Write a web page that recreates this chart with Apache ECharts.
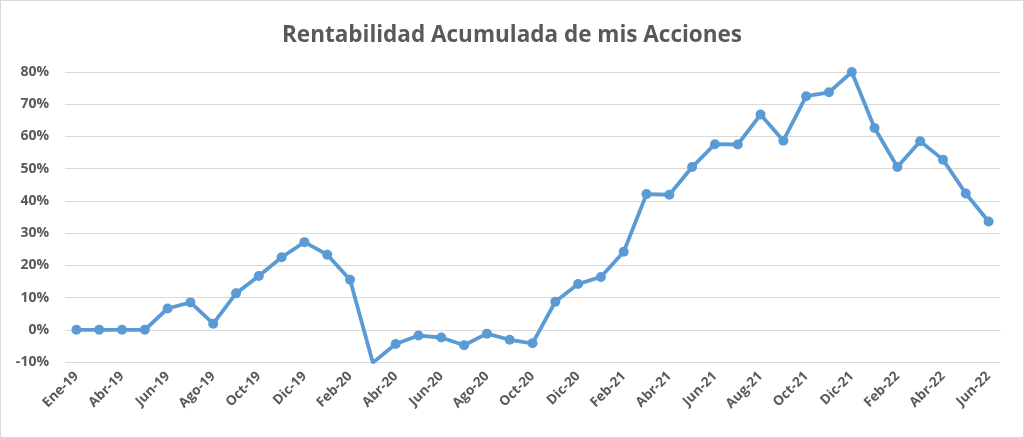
<!DOCTYPE html>
<html>
<head>
<meta charset="utf-8">
<script src="https://cdn.jsdelivr.net/npm/echarts@6/dist/echarts.min.js"></script>
<style>
html,body{margin:0;padding:0;background:#fff;}
#c{width:1022px;height:436px;border:1px solid #d9d9d9;}
</style>
</head>
<body>
<div id="c"></div>
<script>
const months = ["Ene-19","Mar-19","Abr-19","May-19","Jun-19","Jul-19","Ago-19","Sep-19","Oct-19","Nov-19","Dic-19",
"Ene-20","Feb-20","Mar-20","Abr-20","May-20","Jun-20","Jul-20","Ago-20","Sep-20","Oct-20","Nov-20","Dic-20",
"Ene-21","Feb-21","Mar-21","Abr-21","May-21","Jun-21","Jul-21","Aug-21","Sep-21","Oct-21","Nov-21","Dic-21",
"Ene-22","Feb-22","Mar-22","Abr-22","May-22","Jun-22"];
const rentabilidad = [0,0,0,0,6.6,8.5,1.9,11.3,16.7,22.5,27.2,23.3,15.5,-10.2,-4.4,-1.8,-2.4,-4.8,-1.2,-3.1,-4.2,
8.7,14.2,16.4,24.2,42.1,41.9,50.5,57.6,57.5,66.8,58.7,72.5,73.7,80.0,62.6,50.5,58.5,52.8,42.3,33.6];
const yTicks = {min:-10, max:80, interval:10};

const chart = echarts.init(document.getElementById('c'));
chart.setOption({
  animation:false,
  title:{text:'Rentabilidad Acumulada de mis Acciones',left:'center',top:18,
    textStyle:{fontFamily:'Open Sans',fontSize:22.5,fontWeight:'bold',color:'#595959'}},
  grid:{left:64,right:23,top:71,bottom:75,containLabel:false},
  xAxis:{type:'category',data:months,boundaryGap:true,
    axisLine:{lineStyle:{color:'#d9d9d9'}},axisTick:{show:false},
    axisLabel:{interval:1,rotate:45,color:'#595959',fontFamily:'Open Sans',fontWeight:'bold',fontSize:13.5,margin:12}},
  yAxis:{type:'value',min:yTicks.min,max:yTicks.max,interval:yTicks.interval,
    axisLine:{show:false},axisTick:{show:false},
    splitLine:{lineStyle:{color:'#d9d9d9',width:1}},
    axisLabel:{formatter:'{value}%',color:'#595959',fontFamily:'Open Sans',fontWeight:'bold',fontSize:14,margin:16}},
  series:[{type:'line',data:rentabilidad,symbol:'circle',symbolSize:10,
    lineStyle:{color:'#5B9BD5',width:3.8},itemStyle:{color:'#5B9BD5'}}]
});
</script>
</body>
</html>
